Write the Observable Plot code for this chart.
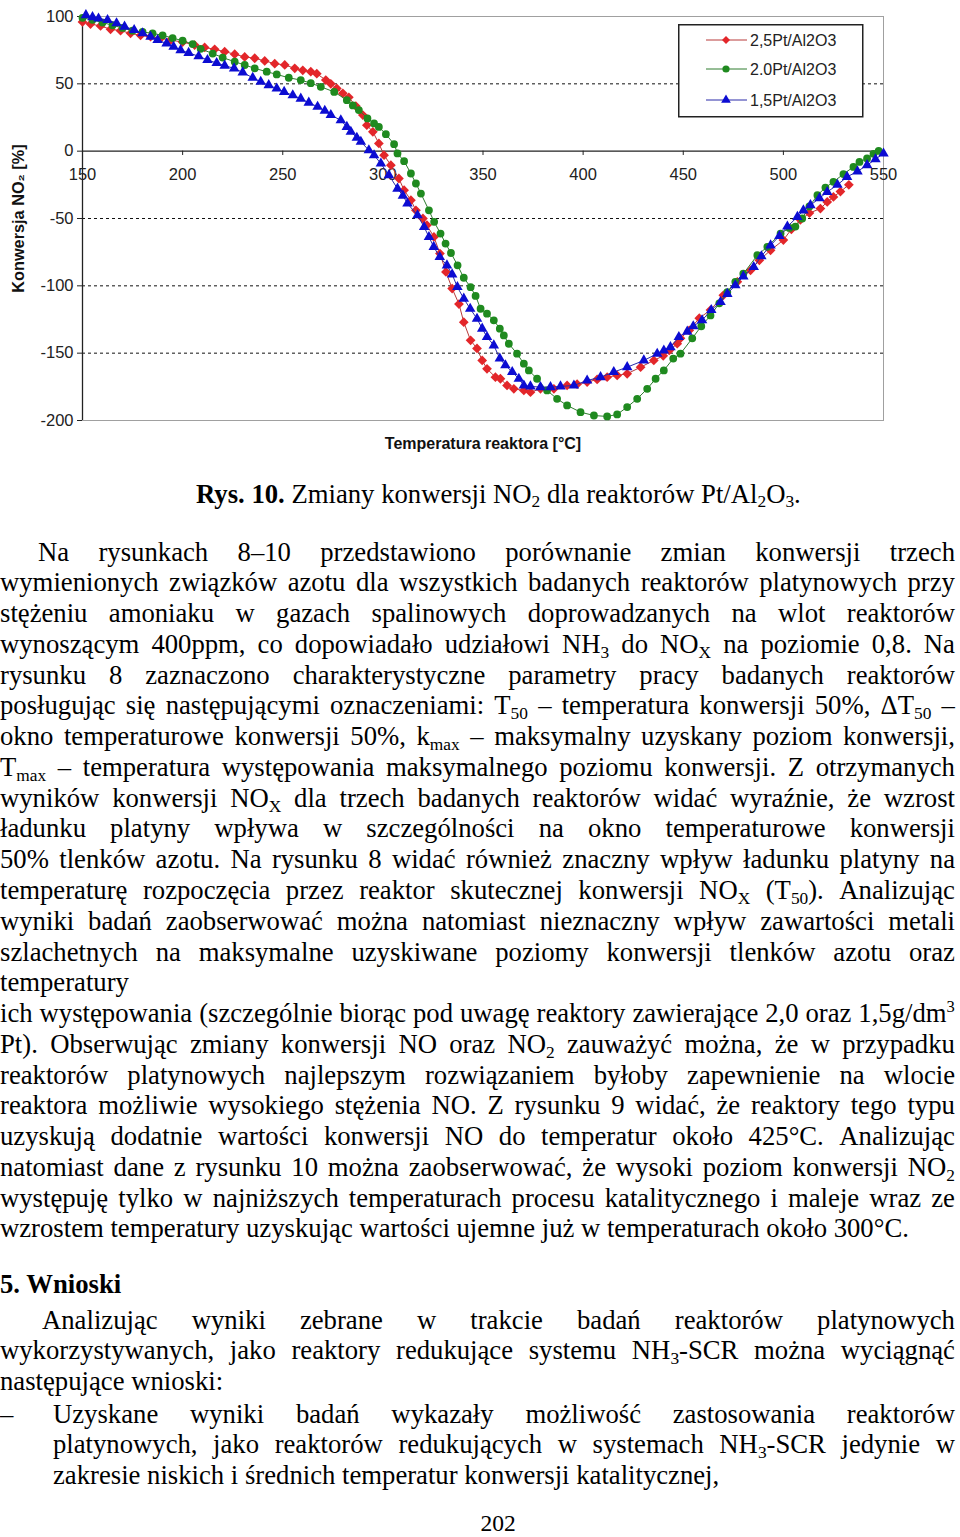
<!DOCTYPE html>
<html><head><meta charset="utf-8">
<script src="https://cdn.jsdelivr.net/npm/d3@7"></script>
<script src="https://cdn.jsdelivr.net/npm/@observablehq/plot@0.6"></script>
<style>
body{margin:0;background:#fff;width:960px;height:1537px;position:relative;overflow:hidden;}
#chart{position:absolute;left:0;top:0;}
#legend{position:absolute;left:678px;top:24px;}
.txt{position:absolute;left:0;width:955px;font-family:"Liberation Serif","Times New Roman",serif;font-size:26.7px;color:#000;}
.l{height:30.77px;line-height:30.77px;white-space:nowrap;}
.j{display:flex;justify-content:space-between;}
.j span{white-space:nowrap;}
sub{font-size:0.65em;position:relative;top:0.28em;vertical-align:baseline;line-height:0;}
sup{font-size:0.62em;position:relative;top:-0.62em;vertical-align:baseline;line-height:0;}
b{font-weight:bold;}
</style></head>
<body>
<div id="chart"></div>
<div id="legend"></div>

<div class="txt" style="top:478.6px;left:196px;width:720px;"><div class="l"><b>Rys. 10.</b> Zmiany konwersji NO<sub>2</sub> dla reaktorów Pt/Al<sub>2</sub>O<sub>3</sub>.</div></div>

<div class="txt" style="top:536.6px;">
<div class="l j" style="padding-left:38px;">Na rysunkach 8–10 przedstawiono porównanie zmian konwersji trzech</div>
<div class="l j">wymienionych związków azotu dla wszystkich badanych reaktorów platynowych przy</div>
<div class="l j">stężeniu amoniaku w gazach spalinowych doprowadzanych na wlot reaktorów</div>
<div class="l j">wynoszącym 400ppm, co dopowiadało udziałowi NH<sub>3</sub> do NO<sub>X</sub> na poziomie 0,8. Na</div>
<div class="l j">rysunku 8 zaznaczono charakterystyczne parametry pracy badanych reaktorów</div>
<div class="l j">posługując się następującymi oznaczeniami: T<sub>50</sub> – temperatura konwersji 50%, ΔT<sub>50</sub> –</div>
<div class="l j">okno temperaturowe konwersji 50%, k<sub>max</sub> – maksymalny uzyskany poziom konwersji,</div>
<div class="l j">T<sub>max</sub> – temperatura występowania maksymalnego poziomu konwersji. Z otrzymanych</div>
<div class="l j">wyników konwersji NO<sub>X</sub> dla trzech badanych reaktorów widać wyraźnie, że wzrost</div>
<div class="l j">ładunku platyny wpływa w szczególności na okno temperaturowe konwersji</div>
<div class="l j">50% tlenków azotu. Na rysunku 8 widać również znaczny wpływ ładunku platyny na</div>
<div class="l j">temperaturę rozpoczęcia przez reaktor skutecznej konwersji NO<sub>X</sub> (T<sub>50</sub>). Analizując</div>
<div class="l j">wyniki badań zaobserwować można natomiast nieznaczny wpływ zawartości metali</div>
<div class="l j">szlachetnych na maksymalne uzyskiwane poziomy konwersji tlenków azotu oraz</div>
<div class="l">temperatury</div>
<div class="l j">ich występowania (szczególnie biorąc pod uwagę reaktory zawierające 2,0 oraz 1,5g/dm<sup>3</sup></div>
<div class="l j">Pt). Obserwując zmiany konwersji NO oraz NO<sub>2</sub> zauważyć można, że w przypadku</div>
<div class="l j">reaktorów platynowych najlepszym rozwiązaniem byłoby zapewnienie na wlocie</div>
<div class="l j">reaktora możliwie wysokiego stężenia NO. Z rysunku 9 widać, że reaktory tego typu</div>
<div class="l j">uzyskują dodatnie wartości konwersji NO do temperatur około 425°C. Analizując</div>
<div class="l j">natomiast dane z rysunku 10 można zaobserwować, że wysoki poziom konwersji NO<sub>2</sub></div>
<div class="l j">występuję tylko w najniższych temperaturach procesu katalitycznego i maleje wraz ze</div>
<div class="l">wzrostem temperatury uzyskując wartości ujemne już w temperaturach około 300°C.</div>
</div>

<div class="txt" style="top:1268.6px;"><div class="l"><b>5. Wnioski</b></div></div>

<div class="txt" style="top:1304.6px;">
<div class="l j" style="padding-left:42px;">Analizując wyniki zebrane w trakcie badań reaktorów platynowych</div>
<div class="l j">wykorzystywanych, jako reaktory redukujące systemu NH<sub>3</sub>-SCR można wyciągnąć</div>
<div class="l">następujące wnioski:</div>
</div>

<div class="txt" style="top:1398.6px;width:20px;"><div class="l">–</div></div>
<div class="txt" style="top:1398.6px;left:53px;width:902px;">
<div class="l j">Uzyskane wyniki badań wykazały możliwość zastosowania reaktorów</div>
<div class="l j">platynowych, jako reaktorów redukujących w systemach NH<sub>3</sub>-SCR jedynie w</div>
<div class="l">zakresie niskich i średnich temperatur konwersji katalitycznej,</div>
</div>

<div class="txt" style="top:1510px;left:458px;width:80px;text-align:center;font-size:23.5px;"><div class="l" style="height:26px;line-height:26px;">202</div></div>

<script>
// ---- data ----
const seriesNames = ["2,5Pt/Al2O3", "2.0Pt/Al2O3", "1,5Pt/Al2O3"];
const markerColors = ["#e3262a", "#1f8a1f", "#0c0cd2"];
const lineColors = ["#b83a3a", "#2e7d2e", "#2a2aa8"];
const symbols = ["diamond2", "circle", "triangle"];
const markerR = [4.4, 3.9, 3.9];

const xTicks = [150, 200, 250, 300, 350, 400, 450, 500, 550];
const yTicks = [100, 50, 0, -50, -100, -150, -200];
const gridY = [50, -50, -100, -150];
const xLabel = "Temperatura reaktora [°C]";
const yLabel = "Konwersja NO₂ [%]";

const redT = [150,154,159,164,169,174,179,184,189,194,200,206,211,216,221,226,231,236,241,246,251,256,260,264,267,271.5,274,277,280,283,286.5,290,292,295,298,300.6,304,308,310.6,314,316.5,320,322,325.5,328.5,331.5,334.6,338,340.4,343.8,347,349.6,352,356.2,358.7,362,365.4,370.4,373.7,378.7,385.4,392,397,402,407,412,417,422,428.7,435.3,440,443,447,448.6,453,458,463.6,470,477,483.6,488,493.6,500,504,508.5,513,518.5,521.9,525,528.5,532.7];
const redV = [96,94.4,93,90.5,89.5,87.5,86,85,83.8,82.5,81,78.8,77,75.6,73.9,72,70,69,67,65,64,61.5,60,59,57.5,52.8,50,46.6,43,40,33.5,26.8,19.3,14.4,5.7,-3,-10.4,-20.3,-29,-36.4,-43.9,-50,-55,-63.7,-76,-89.7,-102,-113.5,-127,-140.5,-146.5,-155.4,-161.6,-167.8,-169,-174,-176.5,-177.7,-179,-176.5,-176.5,-174,-173,-171.5,-169.5,-167.8,-166.5,-165.3,-160.4,-155.4,-152,-148,-143,-139,-133,-124,-118,-107,-97,-88.5,-81,-73.6,-66,-58,-51,-46,-42.6,-37.7,-34,-30,-25];

const greenT = [150,155,160,165,170,175,180,185,190,195,200,205,209,215,220,226,231,236,242,247,253,259,264,269,275.7,282,285,288,292.3,295.6,298,301.5,305.6,307.3,310.6,314,316.5,319,323,325.6,328.8,331.3,334,337.3,340.4,343.8,346.3,348.8,352,355.4,358.4,360.4,362.9,367,370.4,372.9,377,382,387,392,398.7,405.4,412,417,422,427,432,436.2,440.3,445,448.6,454.5,459,463.6,468,472,476,480,487,492,498.6,503,506,509.4,513,517,521,525,530,535,538,541.8,545,547.6];
const greenV = [99,97.5,95.5,93.5,91.5,89.5,88.5,87.5,86,84,82,79.5,76,72.5,69.5,66.4,64,61.5,59,57,54.5,52.8,50.5,47.8,44,37.9,34,30.5,24.3,20.6,18,12.6,5.2,-1.7,-7.4,-16.6,-24,-31.5,-43.9,-52.5,-61.2,-68.6,-75.6,-84.8,-94,-101,-107.5,-117,-120.7,-125.6,-131.8,-136.8,-143,-150.4,-157.8,-162.8,-169,-177.7,-183.9,-188.8,-193.8,-196.3,-197,-195.5,-190,-183.9,-176.5,-169,-162.8,-154,-150.4,-139,-130,-122,-113,-104.6,-97,-91,-77.3,-71,-61.2,-57,-56,-50,-41,-32.7,-27,-22.8,-17,-11.7,-8,-5.4,-2,0.2];

const blueT = [151.7,155,158,162.5,167,171,175.8,180,184,187.5,192,195.5,199,203,208,212.4,217,221,225.7,230,235,239,243,247,250.7,255,259,263,267.4,271,274,279,282,284,287,289,293,295.6,299,303,307.3,310,312.3,317.3,320.6,323,325.4,328.4,332,334.6,337.2,340.4,343.6,347,349.6,352,355.4,358.4,361.2,364.6,367.9,370.4,373.7,378.7,383.7,388.7,395.4,402,408.7,415.3,422,430.3,437,440.3,443.6,447.8,452,455,459.4,464,468.6,472,476,480,485.2,489,493.6,498,502,507,510,513.5,518,521.9,527,531.8,537,541.8,546,550];
const blueV = [101,99.5,98.5,97.4,95,92.5,90,87.5,85,82.5,80,77.5,75,73,70.5,67.7,65.5,63.5,61.5,58.5,54.5,51.5,49,46.5,44,41.5,39,36,33,30,26.8,23,18,14.4,10,7,0.7,-3,-9.2,-17.8,-27.8,-33,-38.9,-47.6,-56.3,-63.7,-71.1,-78.6,-84.8,-91.5,-100.9,-109.5,-117,-124.4,-131.8,-138,-144.2,-154,-159,-164,-169,-174,-174.7,-175.2,-175.2,-174.7,-174,-170.3,-167.8,-164,-160.4,-155.4,-150.4,-148,-145.5,-138,-134,-130,-125.6,-118,-112,-106,-99.6,-93,-86,-78,-70,-63,-56,-48.8,-44,-40.1,-35,-30.3,-25,-19.1,-15,-10.4,-6,-1.7];

const seriesT = [redT, greenT, blueT];
const seriesV = [redV, greenV, blueV];

// ---- chart ----
const seriesMarks = [];
seriesT.forEach((T, k) => {
  const rows = T.map((t, i) => ({t, v: seriesV[k][i]}));
  seriesMarks.push(Plot.line(rows, {x: "t", y: "v", stroke: lineColors[k], strokeWidth: 1}));
  seriesMarks.push(Plot.dot(rows, {x: "t", y: "v", symbol: () => symbols[k], r: markerR[k], fill: markerColors[k], stroke: "none"}));
});

const chart = Plot.plot({
  width: 960, height: 470,
  marginLeft: 82, marginRight: 77, marginTop: 16, marginBottom: 50,
  x: {domain: [150, 550], axis: null},
  y: {domain: [-200, 100]},
  symbol: {type: "identity"},
  style: {fontFamily: "'Liberation Sans', Arial, sans-serif", background: "transparent", overflow: "visible"},
  marks: [
    Plot.ruleY(gridY, {stroke: "#111", strokeDasharray: "3,3", strokeWidth: 1}),
    Plot.frame({stroke: "#a0a0a0"}),
    Plot.ruleY([0], {stroke: "#222", strokeWidth: 1.3}),
    Plot.ruleX([150], {stroke: "#222", strokeWidth: 1.3}),
    Plot.axisY({ticks: yTicks, tickSize: 5, tickPadding: 4, fontSize: 16.5, fill: "#222", stroke: "#222", label: null, tickFormat: d => String(d)}),
    Plot.ruleX(xTicks, {x: d => d, y1: 0, y2: -3.2, stroke: "#222"}),
    Plot.text(xTicks, {x: d => d, y: 0, dy: 24, text: d => String(d), fontSize: 16.5, fill: "#222"}),
    Plot.text([xLabel], {frameAnchor: "bottom", dy: 28, text: d => d, fontWeight: "bold", fontSize: 16, fill: "#111"}),
    Plot.text([yLabel], {frameAnchor: "left", dx: -64, rotate: -90, textAnchor: "middle", text: d => d, fontWeight: "bold", fontSize: 16.3, fill: "#111"}),
    ...seriesMarks
  ]
});
document.getElementById("chart").appendChild(chart);

// ---- legend ----
const lg = d3.select("#legend").append("svg").attr("width", 186).attr("height", 94)
  .style("font-family", "'Liberation Sans', Arial, sans-serif");
lg.append("rect").attr("x", 0.75).attr("y", 0.75).attr("width", 184).attr("height", 92)
  .attr("fill", "#fff").attr("stroke", "#222").attr("stroke-width", 1.5);
const rowY = [16, 45, 76];
const d3sym = {diamond2: d3.symbolDiamond2, circle: d3.symbolCircle, triangle: d3.symbolTriangle};
seriesNames.forEach((name, k) => {
  const g = lg.append("g").attr("transform", `translate(0,${rowY[k]})`);
  g.append("line").attr("x1", 28).attr("x2", 69).attr("y1", 0).attr("y2", 0).attr("stroke", lineColors[k]).attr("stroke-width", 1);
  g.append("path").attr("transform", "translate(48,0)")
    .attr("d", d3.symbol().type(d3sym[symbols[k]]).size(Math.PI * 3.6 * 3.6)())
    .attr("fill", markerColors[k]);
  g.append("text").attr("x", 72).attr("y", 0).attr("dy", "0.35em").attr("font-size", 16).attr("fill", "#222").text(name);
});

// ---- justify text lines ----
document.querySelectorAll(".j").forEach(el => {
  const words = el.innerHTML.trim().split(/\s+/);
  el.innerHTML = words.map(w => `<span>${w}</span>`).join("");
});
</script>
</body></html>
